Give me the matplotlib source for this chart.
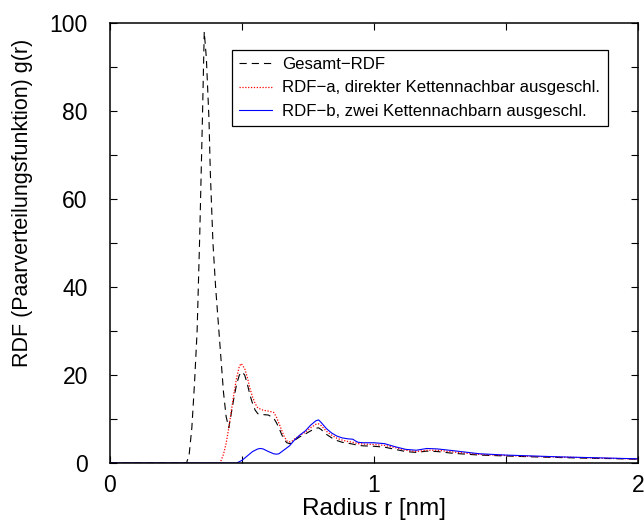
import matplotlib
matplotlib.use('Agg')
import matplotlib.pyplot as plt
from matplotlib.ticker import MultipleLocator, FixedLocator

plt.rcParams['font.family'] = ['Liberation Sans', 'DejaVu Sans']

# Gesamt-RDF (dashed)
r_ges = [0.0, 0.29, 0.30, 0.31, 0.32, 0.33, 0.34, 0.35, 0.357, 0.365, 0.375,
         0.38, 0.39, 0.40, 0.41, 0.42, 0.43, 0.44, 0.45, 0.46, 0.47, 0.48,
         0.49, 0.50, 0.51, 0.52, 0.53, 0.54, 0.55, 0.56, 0.58, 0.60, 0.62,
         0.63, 0.64, 0.65, 0.66, 0.67, 0.68, 0.69, 0.70, 0.72, 0.74, 0.76,
         0.78, 0.79, 0.80, 0.82, 0.84, 0.86, 0.88, 0.90, 0.92, 0.94, 0.96,
         1.0, 1.04, 1.08, 1.12, 1.16, 1.2, 1.24, 1.3, 1.4, 1.5, 1.6, 1.7,
         1.8, 1.9, 2.0]
g_ges = [0.0, 0.0, 2.0, 8.0, 18.0, 30.0, 52.0, 78.0, 98.0, 92.0, 78.0,
         66.0, 50.0, 40.0, 32.0, 24.0, 16.0, 10.5, 8.0, 11.5, 15.0, 18.0,
         20.0, 20.7, 20.0, 18.0, 15.5, 13.5, 12.0, 11.2, 11.0, 10.9, 10.2,
         9.2, 8.0, 6.5, 5.3, 4.6, 4.4, 4.6, 5.2, 6.0, 6.6, 7.3,
         7.9, 8.0, 7.6, 6.5, 5.7, 5.1, 4.7, 4.5, 4.3, 4.0, 3.9,
         3.8, 3.6, 3.1, 2.6, 2.4, 2.7, 2.6, 2.2, 1.8, 1.6, 1.4, 1.25,
         1.1, 1.0, 0.85]

# RDF-a (dotted red)
r_a = [0.0, 0.417, 0.43, 0.44, 0.45, 0.46, 0.47, 0.48, 0.49, 0.497, 0.51,
       0.52, 0.53, 0.54, 0.55, 0.56, 0.58, 0.60, 0.62, 0.63, 0.64, 0.65,
       0.66, 0.67, 0.68, 0.69, 0.70, 0.72, 0.74, 0.76, 0.78, 0.79, 0.80,
       0.82, 0.84, 0.86, 0.88, 0.90, 0.92, 0.94, 0.96, 1.0, 1.04, 1.08,
       1.12, 1.16, 1.2, 1.24, 1.3, 1.4, 1.5, 1.6, 1.7, 1.8, 1.9, 2.0]
g_a = [0.0, 0.0, 2.0, 4.5, 8.0, 12.0, 16.0, 19.5, 22.0, 22.6, 21.5,
       19.5, 17.0, 15.0, 13.5, 12.5, 12.0, 11.8, 11.5, 10.5, 9.0, 7.5,
       6.0, 5.0, 4.8, 5.0, 5.5, 6.3, 7.0, 8.0, 8.8, 8.9, 8.5,
       7.2, 6.3, 5.6, 5.2, 4.9, 4.7, 4.4, 4.3, 4.2, 4.0, 3.5,
       2.9, 2.6, 2.9, 2.9, 2.5, 1.95, 1.7, 1.5, 1.35, 1.2, 1.05, 0.9]

# RDF-b (solid blue)
r_b = [0.0, 0.48, 0.50, 0.52, 0.54, 0.56, 0.57, 0.58, 0.60, 0.62, 0.63,
       0.64, 0.66, 0.68, 0.70, 0.72, 0.74, 0.76, 0.78, 0.79, 0.80, 0.82,
       0.84, 0.86, 0.88, 0.90, 0.92, 0.93, 0.94, 0.96, 1.0, 1.04, 1.08,
       1.12, 1.16, 1.2, 1.24, 1.3, 1.4, 1.5, 1.6, 1.7, 1.8, 1.9, 2.0]
g_b = [0.0, 0.0, 0.6, 1.6, 2.6, 3.2, 3.3, 3.2, 2.6, 2.1, 2.0,
       2.1, 3.0, 3.9, 5.3, 6.4, 7.3, 8.6, 9.6, 9.8, 9.2, 7.8,
       6.8, 6.1, 5.7, 5.5, 5.4, 5.0, 4.7, 4.6, 4.6, 4.4, 3.7,
       3.1, 2.9, 3.3, 3.2, 2.8, 2.1, 1.8, 1.6, 1.4, 1.25, 1.1, 0.95]

labels = ['Gesamt\u2212RDF',
          'RDF\u2212a, direkter Kettennachbar ausgeschl.',
          'RDF\u2212b, zwei Kettennachbarn ausgeschl.']

fig = plt.figure(figsize=(6.44, 5.29), dpi=100)
ax = fig.add_axes([110 / 644, 66 / 529, 528 / 644, 440 / 529])

ax.plot(r_ges, g_ges, color='black', linewidth=0.8, dashes=(6.5, 4.5),
        label=labels[0])
ax.plot(r_a, g_a, color='red', linewidth=0.9, dashes=(1.0, 1.3),
        label=labels[1])
ax.plot(r_b, g_b, color='blue', linewidth=0.8, label=labels[2])

ax.set_xlim(0, 2)
ax.set_ylim(0, 100)
ax.xaxis.set_major_locator(FixedLocator([0, 1, 2]))
ax.xaxis.set_minor_locator(FixedLocator([0.5, 1.5]))
ax.yaxis.set_major_locator(MultipleLocator(20))
ax.yaxis.set_minor_locator(MultipleLocator(10))
ax.tick_params(which='both', direction='in', top=True, right=True,
               length=5, width=0.8)
ax.tick_params(axis='x', labelsize=16.5, pad=8)
ax.tick_params(axis='y', labelsize=16.5, pad=16)
for s in ax.spines.values():
    s.set_linewidth(1.1)

fig.text(374 / 644, 1 - 509 / 529, 'Radius r [nm]', fontsize=17.5,
         ha='center', va='center')
fig.text(23 / 644, 1 - 203 / 529, 'RDF (Paarverteilungsfunktion) g(r)',
         fontsize=15.5, rotation=90, ha='center', va='center')

leg = ax.legend(loc='upper left', bbox_to_anchor=(0.2305, 0.9386),
                borderaxespad=0, fontsize=12.1, fancybox=False,
                framealpha=1, edgecolor='black', handlelength=2.0,
                handletextpad=0.6, labelspacing=0.5, borderpad=0.42)
leg.get_frame().set_linewidth(0.9)

fig.savefig('out.png', dpi=100)
